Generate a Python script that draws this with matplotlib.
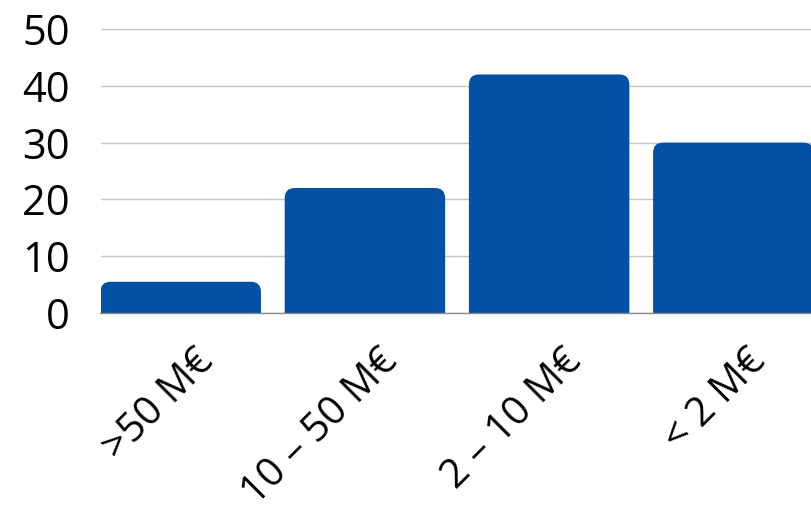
import matplotlib
matplotlib.use("Agg")
import matplotlib.pyplot as plt
from matplotlib.patches import FancyBboxPatch
import matplotlib.transforms as mtransforms

plt.rcParams['font.family'] = ['Open Sans', 'DejaVu Sans']

categories = [">50 M€", "10 – 50 M€", "2 – 10 M€", "< 2 M€"]
values = [5.5, 22, 42, 30]
yticks = [0, 10, 20, 30, 40, 50]

BAR_COLOR = "#0450A2"
BAR_W = 0.871

fig = plt.figure(figsize=(8.11, 5.2), dpi=100)
ax = fig.add_axes([100.5 / 811, 207 / 520, (811 - 100.5) / 811, 284 / 520])
ax.set_xlim(-BAR_W / 2, -BAR_W / 2 + (811 - 100.5) / 184.2)
ax.set_ylim(0, 50)

# px per unit on each axis, used to keep the corner radius round
x_per_px = 1 / 184.2
y_per_px = 50 / 284
radius = 10 * x_per_px
for i, v in enumerate(values):
    box = FancyBboxPatch((i - BAR_W / 2, -5), BAR_W, v + 5,
                         boxstyle=f"round,pad=0,rounding_size={radius}",
                         mutation_aspect=y_per_px / x_per_px,
                         facecolor=BAR_COLOR, edgecolor="none", zorder=3)
    ax.add_patch(box)

ax.set_yticks(yticks)
ax.set_yticklabels([str(t) for t in yticks], fontsize=30)
ax.yaxis.grid(True, color="#c4c4c4", linewidth=1, zorder=0)
ax.tick_params(axis="y", length=0, pad=22)

ax.set_xticks(range(len(categories)))
ax.set_xticklabels(categories, fontsize=29, rotation=45,
                   ha="right", va="center", rotation_mode="anchor")
ax.tick_params(axis="x", length=0, pad=0)
offset = mtransforms.ScaledTranslation(27 / 100, -43 / 100, fig.dpi_scale_trans)
for lbl in ax.get_xticklabels():
    lbl.set_transform(lbl.get_transform() + offset)

for side in ["top", "right", "left"]:
    ax.spines[side].set_visible(False)
ax.spines["bottom"].set_color("#8a8a8a")
ax.spines["bottom"].set_linewidth(1)
ax.spines["bottom"].set_zorder(4)

fig.savefig("out.png", dpi=100)
